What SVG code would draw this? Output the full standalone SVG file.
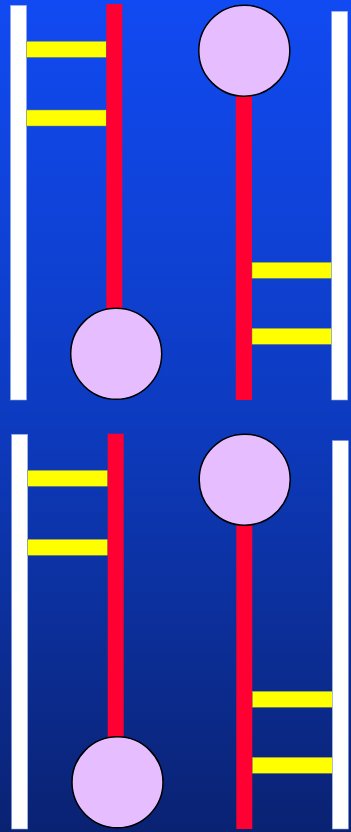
<svg xmlns="http://www.w3.org/2000/svg" width="351" height="832" viewBox="0 0 351 832">
  <defs>
    <linearGradient id="bg" x1="0" y1="0" x2="0" y2="1">
      <stop offset="0" stop-color="#114AF2"/>
      <stop offset="0.5" stop-color="#0D3BC0"/>
      <stop offset="1" stop-color="#0A2272"/>
    </linearGradient>
  </defs>
  <style>
    .white { fill: #FFFFFF; stroke: #8FA8E8; stroke-width: 0.6; }
    .red { fill: #FF0033; }
    .yellow { fill: #FFFF00; stroke: #7A8A60; stroke-width: 0.5; }
    .ball { fill: #E6BEFF; stroke: #000000; stroke-width: 1.5; }
  </style>
  <rect x="0" y="0" width="351" height="832" fill="url(#bg)"/>

  <g id="top-panel">
    <g id="top-left-strand"><rect class="white" x="10.5" y="5.3" width="16" height="394.7"/></g>
    <g id="top-left-rungs">
      <rect class="yellow" x="26.5" y="41.3" width="79.8" height="16"/>
      <rect class="yellow" x="26.5" y="110" width="79.8" height="16"/>
    </g>
    <g id="top-left-stick"><rect class="red" x="106.3" y="4" width="16" height="350"/></g>
    <g id="top-left-ball"><circle class="ball" cx="116.2" cy="353.8" r="45.5"/></g>

    <g id="top-right-stick"><rect class="red" x="235.8" y="50" width="16.2" height="350"/></g>
    <g id="top-right-ball"><circle class="ball" cx="244.3" cy="50.7" r="45.5"/></g>
    <g id="top-right-rungs">
      <rect class="yellow" x="252" y="262.3" width="79.7" height="16"/>
      <rect class="yellow" x="252" y="328.3" width="79.7" height="16"/>
    </g>
    <g id="top-right-strand"><rect class="white" x="331.7" y="11.3" width="16" height="388.7"/></g>
  </g>

  <g id="bottom-panel">
    <g id="bottom-left-strand"><rect class="white" x="11.7" y="434.3" width="16" height="394.7"/></g>
    <g id="bottom-left-rungs">
      <rect class="yellow" x="27.7" y="470.3" width="80" height="16"/>
      <rect class="yellow" x="27.7" y="539.3" width="80" height="16"/>
    </g>
    <g id="bottom-left-stick"><rect class="red" x="107.7" y="433.7" width="16" height="350"/></g>
    <g id="bottom-left-ball"><circle class="ball" cx="117.5" cy="782.3" r="45.5"/></g>

    <g id="bottom-right-stick"><rect class="red" x="236.3" y="480" width="16" height="349"/></g>
    <g id="bottom-right-ball"><circle class="ball" cx="244.7" cy="479.7" r="45.5"/></g>
    <g id="bottom-right-rungs">
      <rect class="yellow" x="252.3" y="691.3" width="80" height="16"/>
      <rect class="yellow" x="252.3" y="757.3" width="80" height="16"/>
    </g>
    <g id="bottom-right-strand"><rect class="white" x="332.3" y="440.7" width="16" height="388.3"/></g>
  </g>
</svg>
